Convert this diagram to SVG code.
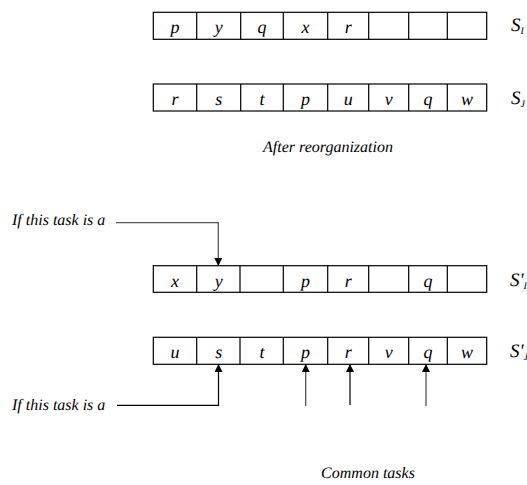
<svg xmlns="http://www.w3.org/2000/svg" width="527" height="485" viewBox="0 0 527 485" font-family="Liberation Serif, serif" font-style="italic" text-rendering="geometricPrecision">
<style>
.cell{fill:#fff;stroke:#000;stroke-width:1.2}
.t{font-size:18px;text-anchor:middle;fill:#000}
.lbl{font-size:16px;fill:#000}
.sl{font-size:19px;fill:#000}
.sub{font-size:10px}
.ln{fill:none;stroke:#555;stroke-width:1.3}
.lb{fill:none;stroke:#000;stroke-width:1.2}
</style>
<defs>
<marker id="ah" markerWidth="8" markerHeight="10" refX="7" refY="4" orient="auto" markerUnits="userSpaceOnUse">
<path d="M0,0 L8,4 L0,8 Z" fill="#000"/>
</marker>
</defs>
<g id="row-SI">
<rect class="cell" x="153.3" y="12.3" width="333.4" height="27"/>
<path class="lb" d="M196.7,12.3V39.3M240.7,12.3V39.3M283.3,12.3V39.3M327.7,12.3V39.3M368.7,12.3V39.3M408.7,12.3V39.3M447.3,12.3V39.3"/>
<text class="t" x="175" y="33">p</text>
<text class="t" x="218.7" y="33">y</text>
<text class="t" x="262" y="33">q</text>
<text class="t" x="305.5" y="33">x</text>
<text class="t" x="348.2" y="33">r</text>
<text class="sl" x="511" y="31">S<tspan class="sub" dy="3">I</tspan></text>
</g>
<g id="row-SJ">
<rect class="cell" x="153.3" y="84" width="333.4" height="27"/>
<path class="lb" d="M196.7,84V111M240.7,84V111M283.3,84V111M327.7,84V111M368.7,84V111M408.7,84V111M447.3,84V111"/>
<text class="t" x="175" y="105">r</text>
<text class="t" x="218.7" y="105">s</text>
<text class="t" x="262" y="105">t</text>
<text class="t" x="305.5" y="105">p</text>
<text class="t" x="348.2" y="105">u</text>
<text class="t" x="388.7" y="105">v</text>
<text class="t" x="428" y="105">q</text>
<text class="t" x="467" y="105">w</text>
<text class="sl" x="511" y="104">S<tspan class="sub" dy="3">J</tspan></text>
</g>
<g id="caption-after">
<text class="lbl" x="328" y="152" text-anchor="middle">After reorganization</text>
</g>
<g id="row-S1prime">
<rect class="cell" x="153.3" y="265.7" width="333.4" height="26.6"/>
<path class="lb" d="M196.7,265.7V292.3M240,265.7V292.3M283.3,265.7V292.3M327.7,265.7V292.3M368.7,265.7V292.3M408.7,265.7V292.3M447.3,265.7V292.3"/>
<text class="t" x="175" y="287">x</text>
<text class="t" x="218.7" y="287">y</text>
<text class="t" x="305.5" y="287">p</text>
<text class="t" x="348.2" y="287">r</text>
<text class="t" x="428" y="287">q</text>
<text class="sl" x="510" y="286">S'<tspan class="sub" dy="3">I</tspan></text>
</g>
<g id="row-SJprime">
<rect class="cell" x="153.3" y="337.3" width="333.4" height="27"/>
<path class="lb" d="M196.7,337.3V364.3M240,337.3V364.3M283.3,337.3V364.3M327.7,337.3V364.3M368.7,337.3V364.3M408.7,337.3V364.3M447.3,337.3V364.3"/>
<text class="t" x="175" y="358">u</text>
<text class="t" x="218.7" y="358">s</text>
<text class="t" x="262" y="358">t</text>
<text class="t" x="305.5" y="358">p</text>
<text class="t" x="348.2" y="358">r</text>
<text class="t" x="388.7" y="358">v</text>
<text class="t" x="428" y="358">q</text>
<text class="t" x="467" y="358">w</text>
<text class="sl" x="510" y="357">S'<tspan class="sub" dy="3">J</tspan></text>
</g>
<g id="label-top-task">
<text class="lbl" x="12" y="225">If this task is a</text>
</g>
<g id="label-bottom-task">
<text class="lbl" x="12" y="410">If this task is a</text>
</g>
<g id="caption-common">
<text class="lbl" x="368" y="478" text-anchor="middle">Common tasks</text>
</g>
<g id="connectors">
<path class="ln" d="M116,222.7H218.3V265" marker-end="url(#ah)"/>
<path class="lb" d="M117,405.3H218.5V365" marker-end="url(#ah)"/>
<path class="ln" d="M305.7,406V365" marker-end="url(#ah)"/>
<path class="lb" d="M350,405V365" marker-end="url(#ah)"/>
<path class="ln" d="M426,406V365" marker-end="url(#ah)"/>
</g>
</svg>
